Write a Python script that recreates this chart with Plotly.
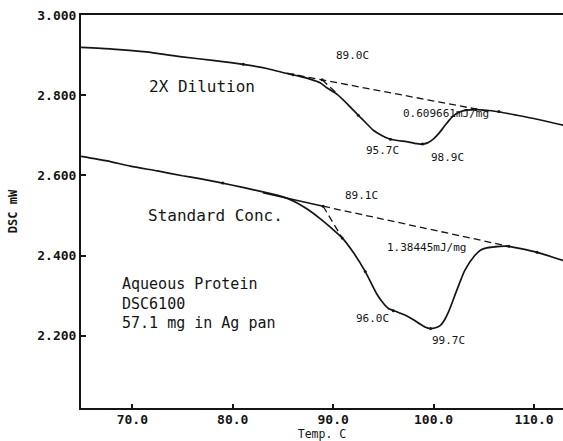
import plotly.graph_objects as go

# ---------------- data ----------------
temp_dil = [64.9, 68.0, 71.4, 74.75, 78.0, 81.05, 83.5, 85.4, 86.5, 87.7, 88.7, 89.4, 90.4,
            91.5, 92.5, 93.3, 94.0, 94.8, 95.5, 96.4, 97.3, 98.1, 98.8, 99.4, 100.0, 100.5,
            101.0, 101.5, 102.0, 102.6, 103.3, 104.2, 105.0, 106.6, 108.3, 110.3, 112.9]
dsc_dil = [2.919, 2.915, 2.908, 2.896, 2.887, 2.877, 2.866, 2.854, 2.848, 2.840, 2.831, 2.818,
           2.802, 2.776, 2.750, 2.730, 2.7125, 2.700, 2.692, 2.687, 2.684, 2.680, 2.678, 2.681,
           2.691, 2.704, 2.720, 2.736, 2.749, 2.758, 2.7625, 2.764, 2.763, 2.758, 2.750, 2.740,
           2.725]

temp_std = [64.9, 67.5, 69.8, 72.5, 75.0, 76.7, 78.75, 81.0, 83.0, 84.5, 85.5, 86.5, 87.6,
            88.7, 89.8, 90.9, 92.0, 93.2, 94.3, 95.0, 95.5, 96.2, 97.3, 98.0, 98.65, 99.2,
            99.65, 100.2, 100.65, 101.1, 101.5, 102.3, 103.1, 104.1, 104.7, 105.3, 106.6,
            107.5, 108.5, 110.3, 112.9]
dsc_std = [2.6475, 2.636, 2.623, 2.611, 2.599, 2.592, 2.582, 2.570, 2.559, 2.550, 2.542, 2.530,
           2.513, 2.492, 2.469, 2.444, 2.408, 2.360, 2.306, 2.281, 2.268, 2.261, 2.250, 2.240,
           2.229, 2.221, 2.218, 2.220, 2.225, 2.240, 2.260, 2.3125, 2.3625, 2.400, 2.414, 2.419,
           2.423, 2.423, 2.418, 2.408, 2.3875]

# construction lines (baselines / onset tangents)
base_dil_x = [85.4, 105.5]
base_dil_y = [2.8548, 2.7595]
tan_dil_x = [88.9, 90.4]
tan_dil_y = [2.8385, 2.804]
base_std_solid_x = [83.0, 89.0]
base_std_solid_y = [2.5565, 2.523]
base_std_x = [89.0, 107.5]
base_std_y = [2.523, 2.423]
tan_std_x = [89.0, 90.9]
tan_std_y = [2.523, 2.444]

# small plotter dots
dots_dil_x = [81.05, 86.0, 88.9, 92.5, 95.7, 98.9, 104.2, 106.5]
dots_dil_y = [2.877, 2.851, 2.8385, 2.750, 2.690, 2.678, 2.764, 2.759]
dots_std_x = [79.0, 89.0, 90.9, 93.2, 96.0, 99.7, 107.5, 110.3]
dots_std_y = [2.581, 2.523, 2.444, 2.360, 2.262, 2.218, 2.423, 2.408]

# labels
peak_text = ["89.0C", "0.609661mJ/mg", "95.7C", "98.9C",
             "89.1C", "1.38445mJ/mg", "96.0C", "99.7C"]
peak_x = [91.88, 101.25, 94.87, 101.4, 92.87, 99.32, 93.92, 101.5]
peak_y = [2.900, 2.755, 2.6625, 2.645, 2.550, 2.421, 2.242, 2.1875]

curve_text = ["2X Dilution", "Standard Conc."]
curve_label_x = [71.45, 71.4]
curve_label_y = [2.8225, 2.500]
info_lines = ["Aqueous Protein", "DSC6100", "57.1 mg in Ag pan"]

x_ticks = [70, 80, 90, 100, 110]
x_ticktext = ["70.0", "80.0", "90.0", "100.0", "110.0"]
y_ticks = [2.2, 2.4, 2.6, 2.8, 3.0]
y_ticktext = ["2.200", "2.400", "2.600", "2.800", "3.000"]

# ---------------- figure ----------------
INK = "#151515"
MONO = "DejaVu Sans Mono"
fig = go.Figure()

line = dict(color=INK, width=1.7, shape="spline", smoothing=0.6)
fig.add_trace(go.Scatter(x=temp_dil, y=dsc_dil, mode="lines", line=line, name="2X Dilution"))
fig.add_trace(go.Scatter(x=temp_std, y=dsc_std, mode="lines", line=line, name="Standard Conc."))

dash = dict(color=INK, width=1.3, dash="7px,4px")
for xs, ys in [(base_dil_x, base_dil_y), (tan_dil_x, tan_dil_y),
               (base_std_x, base_std_y), (tan_std_x, tan_std_y)]:
    fig.add_trace(go.Scatter(x=xs, y=ys, mode="lines", line=dash, showlegend=False))
fig.add_trace(go.Scatter(x=base_std_solid_x, y=base_std_solid_y, mode="lines",
                         line=dict(color=INK, width=1.5), showlegend=False))
fig.add_trace(go.Scatter(x=dots_dil_x + dots_std_x, y=dots_dil_y + dots_std_y, mode="markers",
                         marker=dict(color=INK, size=3), showlegend=False))

for t, x, y in zip(peak_text, peak_x, peak_y):
    fig.add_annotation(x=x, y=y, text=t, showarrow=False,
                       font=dict(family=MONO, size=11, color=INK))

big = dict(family=MONO, size=16, color=INK)
for t, x, y in zip(curve_text, curve_label_x, curve_label_y):
    fig.add_annotation(x=x, y=y, text=t, xanchor="left", showarrow=False, font=big)
fig.add_annotation(x=68.75, y=2.281, text="<br>".join(info_lines), xanchor="left",
                   yanchor="middle", align="left", showarrow=False,
                   font=dict(family=MONO, size=15, color=INK))

tickfont = dict(family=MONO, size=13, color=INK, weight="bold")
fig.update_xaxes(range=[64.89, 112.89], tickvals=x_ticks, ticktext=x_ticktext,
                 ticks="inside", ticklen=4, tickwidth=1.5, tickcolor=INK,
                 showline=True, linecolor=INK, linewidth=2, mirror=True,
                 showgrid=False, zeroline=False, tickfont=tickfont, automargin=False,
                 title=dict(text="Temp. C", standoff=0,
                            font=dict(family=MONO, size=11.5, color=INK)))
try:
    fig.update_xaxes(ticklabelstandoff=-2)
except Exception:
    pass
fig.update_yaxes(range=[2.0197, 3.0], tickvals=y_ticks, ticktext=y_ticktext,
                 ticks="inside", ticklen=5, tickwidth=1.5, tickcolor=INK,
                 showline=True, linecolor=INK, linewidth=2, mirror=False,
                 showgrid=False, zeroline=False, tickfont=tickfont, automargin=False,
                 title=dict(text="DSC mW", standoff=17,
                            font=dict(family=MONO, size=12, color=INK, weight="bold")))

fig.update_layout(width=563, height=441, margin=dict(l=81, r=0, t=15, b=33),
                  paper_bgcolor="white", plot_bgcolor="white", showlegend=False)

fig.write_html("out.html")
